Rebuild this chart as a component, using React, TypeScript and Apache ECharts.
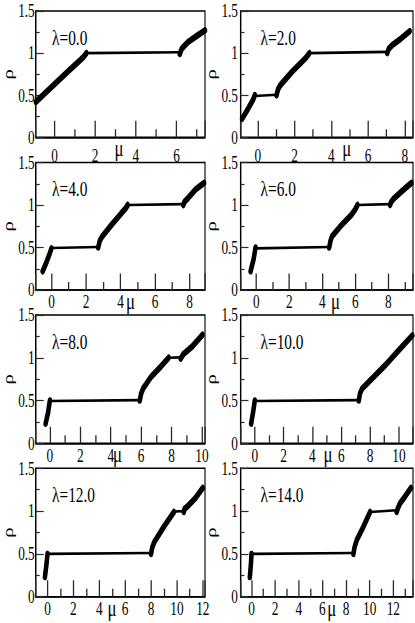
import React, { useEffect, useRef } from 'react';
import * as echarts from 'echarts';

// The reference image is horizontally compressed; reproduce that with a CSS scaleX.
const S = 0.7;
const W = 415;
const H = 623;
const FONT = '"Liberation Serif", "Times New Roman", serif';

// ---- panel captions and axis ranges ----
const lambdaLabels = ['λ=0.0', 'λ=2.0', 'λ=4.0', 'λ=6.0', 'λ=8.0', 'λ=10.0', 'λ=12.0', 'λ=14.0'];
const xMin = [-0.92, -0.94, -0.91, -0.95, -0.93, -0.99, -0.91, -0.93];
const xMax = [7.4, 8.44, 8.9, 9.49, 10.2, 10.98, 12.17, 13.66];
const xTickStep = 2;
const yTickStep = 0.5;

// ---- data: thick (steep) segments and thin (plateau) segments, [mu, rho] ----
const lam0Thick = [
  [[-0.92, 0.42], [0, 0.63], [0.7, 0.79], [1.3, 0.925], [1.45, 0.96], [1.57, 1.0]],
  [[6.16, 0.99], [6.25, 1.05], [6.56, 1.13], [6.97, 1.2], [7.4, 1.27]],
];
const lam0Thin = [[[1.57, 1.0], [6.16, 1.01]]];

const lam2Thick = [
  [[-0.85, 0.22], [-0.5, 0.35], [-0.25, 0.45], [-0.16, 0.5]],
  [[1.02, 0.5], [1.1, 0.57], [1.23, 0.62], [1.87, 0.78], [2.6, 0.94], [2.81, 1.0]],
  [[7.04, 1.0], [7.12, 1.05], [7.31, 1.095], [7.77, 1.17], [8.26, 1.26]],
];
const lam2Thin = [[[-0.16, 0.49], [1.02, 0.505]], [[2.81, 1.0], [7.04, 1.015]]];

const lam4Thick = [
  [[-0.51, 0.22], [-0.3, 0.32], [-0.1, 0.43], [0, 0.49]],
  [[2.71, 0.5], [2.8, 0.58], [2.94, 0.63], [3.5, 0.77], [4.08, 0.91], [4.3, 0.96], [4.42, 1.0]],
  [[7.64, 1.0], [7.72, 1.04], [7.87, 1.07], [8.34, 1.18], [8.85, 1.26]],
];
const lam4Thin = [[[0, 0.495], [2.71, 0.505]], [[4.42, 1.0], [7.64, 1.01]]];

const lam6Thick = [
  [[-0.34, 0.22], [-0.15, 0.37], [-0.04, 0.5]],
  [[4.42, 0.5], [4.5, 0.58], [4.58, 0.63], [5.19, 0.77], [5.79, 0.89], [6.0, 0.95], [6.13, 1.0]],
  [[8.1, 1.0], [8.18, 1.04], [8.3, 1.07], [8.8, 1.16], [9.4, 1.26]],
];
const lam6Thin = [[[-0.04, 0.49], [4.42, 0.505]], [[6.13, 1.0], [8.1, 1.01]]];

const lam8Thick = [
  [[-0.28, 0.23], [-0.12, 0.36], [0, 0.5]],
  [[5.91, 0.5], [6.0, 0.58], [6.13, 0.64], [6.67, 0.78], [7.31, 0.9], [7.81, 1.0]],
  [[8.6, 0.99], [8.77, 1.04], [9.35, 1.13], [10.04, 1.27]],
];
const lam8Thin = [[[0, 0.495], [5.91, 0.505]], [[7.81, 1.0], [8.6, 1.005]]];

const lam10Thick = [
  [[-0.25, 0.23], [-0.1, 0.38], [0, 0.5]],
  [[7.22, 0.5], [7.3, 0.58], [7.45, 0.64], [8.15, 0.76], [9.07, 0.915], [10.0, 1.09], [10.93, 1.26]],
];
const lam10Thin = [[[0, 0.495], [7.22, 0.505]]];

const lam12Thick = [
  [[-0.2, 0.23], [-0.08, 0.38], [0, 0.5]],
  [[8.0, 0.5], [8.1, 0.58], [8.26, 0.64], [9.0, 0.82], [9.77, 0.99]],
  [[10.53, 0.99], [10.6, 1.03], [10.78, 1.05], [11.41, 1.15], [12.0, 1.27]],
];
const lam12Thin = [[[0, 0.5], [8.0, 0.51]], [[9.77, 0.995], [10.53, 1.0]]];

const lam14Thick = [
  [[-0.14, 0.23], [-0.05, 0.38], [0, 0.5]],
  [[8.62, 0.5], [8.72, 0.58], [8.9, 0.66], [9.47, 0.82], [10.03, 0.99]],
  [[12.28, 0.99], [12.4, 1.04], [12.56, 1.09], [12.98, 1.17], [13.48, 1.27]],
];
const lam14Thin = [[[0, 0.5], [8.62, 0.51]], [[10.03, 0.99], [12.28, 1.01]]];

const thickData = [lam0Thick, lam2Thick, lam4Thick, lam6Thick, lam8Thick, lam10Thick, lam12Thick, lam14Thick];
const thinData = [lam0Thin, lam2Thin, lam4Thin, lam6Thin, lam8Thin, lam10Thin, lam12Thin, lam14Thin];

// ---- layout (screen pixels) ----
const colX = [[32, 205], [240.5, 413]];
const rowY = [[11, 137.3], [162.5, 290], [315, 443.3], [468.3, 596.7]];
const muLabelX = [119, 346.7, 130.5, 335.5, 117.5, 328, 112, 331.7];
const xLabelMargin = [8.5, 2.5, 2.5, 2.5];
const TICK_COLOR = '#2a2a2a';

function buildOption() {
  const grid: any[] = [];
  const xAxis: any[] = [];
  const yAxis: any[] = [];
  const series: any[] = [];
  const graphic: any[] = [];

  for (let i = 0; i < 8; i++) {
    const col = i % 2;
    const row = Math.floor(i / 2);
    const [x0, x1] = colX[col];
    const [y0, y1] = rowY[row];
    grid.push({
      left: x0 / S,
      width: (x1 - x0) / S,
      top: y0,
      height: y1 - y0,
      show: true,
      borderColor: '#000',
      borderWidth: 1.6,
      backgroundColor: 'transparent',
      containLabel: false,
    });
    const span = xMax[i] - xMin[i];
    xAxis.push({
      gridIndex: i,
      type: 'value',
      min: xMin[i],
      max: xMax[i],
      splitNumber: Math.max(1, Math.round(span / xTickStep)),
      minInterval: xTickStep,
      maxInterval: xTickStep,
      position: 'bottom',
      axisLine: { show: true, onZero: false, lineStyle: { color: '#000', width: 1.6 } },
      splitLine: { show: false },
      axisTick: { show: true, inside: true, length: 16.5, lineStyle: { color: TICK_COLOR, width: 1.3 / S } },
      minorTick: { show: true, splitNumber: 2, length: 8, lineStyle: { color: TICK_COLOR, width: 1.3 / S } },
      minorSplitLine: { show: false },
      axisLabel: {
        show: true,
        fontFamily: FONT,
        fontSize: 19,
        color: '#000',
        margin: xLabelMargin[row],
        showMinLabel: true,
        showMaxLabel: true,
        formatter: (v: number) => (Math.abs(v / xTickStep - Math.round(v / xTickStep)) < 1e-6 ? String(Math.round(v)) : ''),
      },
    });
    yAxis.push({
      gridIndex: i,
      type: 'value',
      min: 0,
      max: 1.5,
      interval: yTickStep,
      axisLine: { show: true, onZero: false, lineStyle: { color: '#000', width: 1.6 } },
      splitLine: { show: false },
      axisTick: { show: true, inside: true, length: 8 / S, lineStyle: { color: TICK_COLOR, width: 1.2 } },
      minorTick: { show: true, splitNumber: 2, length: 4 / S, lineStyle: { color: TICK_COLOR, width: 1.2 } },
      minorSplitLine: { show: false },
      axisLabel: {
        show: true,
        fontFamily: FONT,
        fontSize: 19,
        color: '#000',
        margin: (col === 0 ? 1 : 2.5) / S,
      },
      name: 'ρ',
      nameLocation: 'middle',
      nameRotate: 90,
      nameGap: (col === 0 ? 18.5 : 20.5) / S,
      nameTextStyle: { fontFamily: FONT, fontSize: 21, color: '#000' },
    });

    const common = {
      type: 'line',
      xAxisIndex: i,
      yAxisIndex: i,
      showSymbol: false,
      symbol: 'none',
      smooth: false,
      silent: true,
      clip: true,
    };
    thickData[i].forEach((seg) => {
      series.push({ ...common, data: seg, lineStyle: { color: '#000', width: 6.5, cap: 'round', join: 'round' } });
    });
    thinData[i].forEach((seg) => {
      series.push({ ...common, data: seg, lineStyle: { color: '#000', width: 2.6, cap: 'round' } });
    });

    // lambda caption
    graphic.push({
      type: 'text',
      x: (x0 + 20) / S,
      y: y0 + 26,
      silent: true,
      style: {
        text: lambdaLabels[i],
        fontFamily: FONT,
        fontSize: 22,
        fill: '#000',
        align: 'left',
        verticalAlign: 'middle',
      },
    });
    // mu axis title
    graphic.push({
      type: 'text',
      x: muLabelX[i] / S,
      y: y1 + 11,
      silent: true,
      style: {
        text: 'μ',
        fontFamily: FONT,
        fontSize: 24,
        fill: '#000',
        align: 'center',
        verticalAlign: 'middle',
      },
    });
  }

  return {
    animation: false,
    backgroundColor: '#fff',
    textStyle: { fontFamily: FONT },
    grid,
    xAxis,
    yAxis,
    series,
    graphic,
  };
}

export default function App() {
  const ref = useRef<HTMLDivElement | null>(null);
  useEffect(() => {
    if (!ref.current) return;
    const chart = echarts.init(ref.current, undefined, { renderer: 'svg' });
    chart.setOption(buildOption() as any);
    return () => chart.dispose();
  }, []);
  return (
    <div style={{ position: 'fixed', left: 0, top: 0, width: W, height: H, overflow: 'hidden', background: '#fff' }}>
      <div
        ref={ref}
        style={{ width: W / S, height: H, transform: `scaleX(${S})`, transformOrigin: '0 0' }}
      />
    </div>
  );
}
